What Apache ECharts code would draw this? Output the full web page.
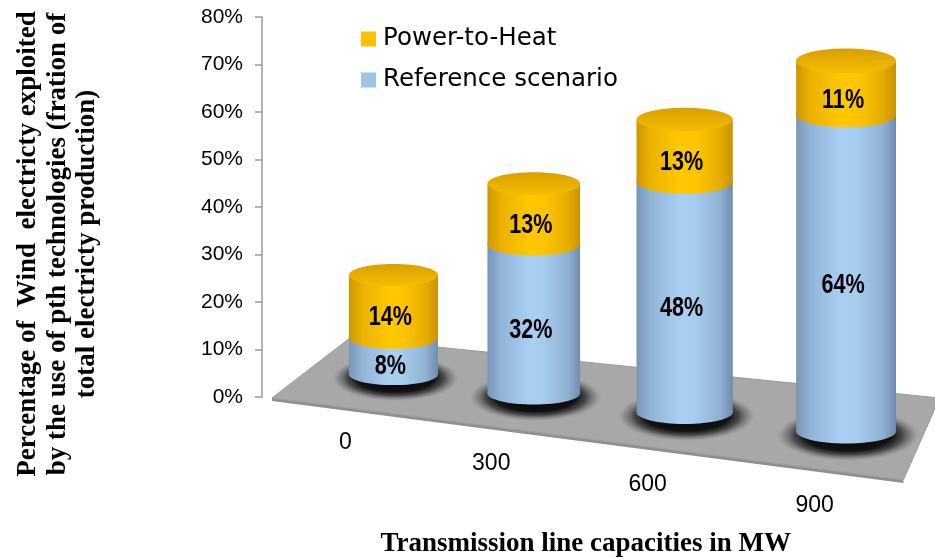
<!DOCTYPE html>
<html>
<head>
<meta charset="utf-8">
<script src="https://cdn.jsdelivr.net/npm/echarts@6/dist/echarts.min.js"></script>
<style>html,body{margin:0;padding:0;background:#fff;}#main{width:935px;height:560px;}</style>
</head>
<body>
<div id="main"></div>
<script>
// ---- data ----
const categories = ['0', '300', '600', '900'];
const referenceScenario = [8, 32, 48, 64];
const powerToHeat = [14, 13, 13, 11];
const seriesNames = ['Power-to-Heat', 'Reference scenario'];
const yTickFormat = '{value}%';

// ---- perspective helpers (layout only) ----
const N = categories.length;
function persp(api, i) {
  const c0 = api.coord([i, 0]);
  const bw = api.size([1, 0])[0];
  return {
    cx: c0[0] - bw * 0.035 * i * (N - 1 - i),
    base: c0[1] + bw * 0.126 * (i - 1.2),
    k: 0.95 + 0.03 * i,
    rx: bw * (0.295 + 0.012 * i),
    y0: c0[1]
  };
}
function yAt(api, p, i, v) {
  return p.base - (p.y0 - api.coord([i, v])[1]) * p.k;
}
const blueGrad = new echarts.graphic.LinearGradient(0, 0, 1, 0, [
  {offset: 0, color: '#7896b8'}, {offset: 0.15, color: '#92b4d8'},
  {offset: 0.45, color: '#a9cff2'}, {offset: 0.6, color: '#a6ccee'},
  {offset: 0.87, color: '#8fb0d3'}, {offset: 1, color: '#6f8cad'}]);
const yellowGrad = new echarts.graphic.LinearGradient(0, 0, 1, 0, [
  {offset: 0, color: '#cf9600'}, {offset: 0.15, color: '#ebb200'},
  {offset: 0.45, color: '#ffc800'}, {offset: 0.62, color: '#fdc500'},
  {offset: 0.87, color: '#e6ac00'}, {offset: 1, color: '#c99100'}]);
const capGrad = new echarts.graphic.LinearGradient(0, 0, 0, 1, [
  {offset: 0, color: '#d9a000'}, {offset: 1, color: '#f5bd00'}]);
const shadowGrad = new echarts.graphic.RadialGradient(0.5, 0.5, 0.5, [
  {offset: 0, color: 'rgba(0,0,0,1)'}, {offset: 0.6, color: 'rgba(10,10,10,0.95)'},
  {offset: 0.75, color: 'rgba(40,40,40,0.75)'}, {offset: 0.9, color: 'rgba(100,100,100,0.35)'},
  {offset: 1, color: 'rgba(168,168,168,0)'}]);
const labelFont = 'bold 27px "Liberation Sans", Arial, sans-serif';

function renderSegment(params, api, isTop) {
  const i = api.value(0);
  const v = api.value(1);
  const b = api.value(2);
  const p = persp(api, i);
  const yBot = yAt(api, p, i, b);
  const yTop = yAt(api, p, i, b + v);
  const ry = p.rx * 0.245;
  const fill = isTop ? yellowGrad : blueGrad;
  const children = [];
  if (!isTop) {
    children.push({type: 'circle', x: p.cx + 2, y: p.base + 4, scaleY: 0.36,
      shape: {cx: 0, cy: 0, r: p.rx * 1.45}, style: {fill: shadowGrad}});
  }
  children.push({type: 'rect', shape: {x: p.cx - p.rx, y: yTop, width: p.rx * 2, height: yBot - yTop}, style: {fill: fill}});
  children.push({type: 'ellipse', shape: {cx: p.cx, cy: yBot, rx: p.rx, ry: ry}, style: {fill: fill}});
  if (isTop) {
    children.push({type: 'ellipse', shape: {cx: p.cx, cy: yTop, rx: p.rx, ry: ry}, style: {fill: capGrad}});
  }
  children.push({type: 'text', x: p.cx - 3, y: (yTop + yBot) / 2 + ry, scaleX: 0.8,
    style: {text: v + '%', x: 0, y: 0, align: 'center', verticalAlign: 'middle', font: labelFont, fill: '#000'}});
  return {type: 'group', children: children};
}

function renderFloor(params, api) {
  const cs = params.coordSys;
  const bw = cs.width / N;
  const gl = cs.x, gr = cs.x + cs.width, y0 = cs.y + cs.height;
  const FL = [gl - bw * 0.305, y0 + 1];
  const BL = [gl + bw * 0.21, y0 - bw * 0.39];
  const BR = [gr + bw * 0.12, y0 + 1];
  const FR = [gr - bw * 0.12, y0 + bw * 0.55];
  return {type: 'group', children: [
    {type: 'polygon', shape: {points: [FL, FR, [FR[0], FR[1] + 3], [FL[0], FL[1] + 3]]}, style: {fill: '#8f8f8f'}},
    {type: 'polygon', shape: {points: [FL, BL, BR, FR]}, style: {fill: '#a8a8a8', stroke: '#9a9a9a', lineWidth: 1}}
  ]};
}

// category label perspective offsets (layout)
const rich = {};
categories.forEach((c, i) => {
  const bw = 150.8;
  const dx = -bw * 0.035 * i * (N - 1 - i) + (-48 + 5.5 * i);
  const dy = 21 * i;
  rich['p' + i] = {
    fontSize: 23, fontFamily: '"Liberation Sans", Arial, sans-serif',
    color: '#000',
    padding: [dy, dx < 0 ? -2 * dx : 0, 0, dx > 0 ? 2 * dx : 0]
  };
});

const chart = echarts.init(document.getElementById('main'), null, {renderer: 'canvas'});
chart.setOption({
  animation: false,
  backgroundColor: '#fff',
  grid: {left: 318, right: 13.5, top: 17, bottom: 163, containLabel: false, outerBoundsMode: 'none'},
  legend: {
    orient: 'vertical', left: 361, top: 26, padding: 0, icon: 'rect', itemWidth: 15, itemHeight: 15, itemGap: 15,
    data: seriesNames,
    textStyle: {fontFamily: '"DejaVu Sans", sans-serif', fontSize: 24.5, color: '#000', lineHeight: 26, padding: [0, 0, 0, 2]}
  },
  xAxis: {
    type: 'category', data: categories,
    axisLine: {show: false}, axisTick: {show: false},
    axisLabel: {margin: 34, formatter: (v, idx) => '{p' + idx + '|' + v + '}', rich: rich},
    name: 'Transmission line capacities in MW', nameLocation: 'middle', nameGap: 134,
    nameTextStyle: {fontFamily: '"Liberation Serif", "Times New Roman", serif', fontWeight: 'bold', fontSize: 27, color: '#000', padding: [0, 68, 0, 0]}
  },
  yAxis: {
    type: 'value', min: 0, max: 80, interval: 10, offset: 56,
    axisLine: {show: true, lineStyle: {color: '#9a9a9a', width: 1.5}},
    axisTick: {show: true, length: 7, lineStyle: {color: '#9a9a9a', width: 1.5}},
    splitLine: {show: false},
    axisLabel: {formatter: yTickFormat, fontSize: 21, color: '#000', fontFamily: '"Liberation Sans", Arial, sans-serif', margin: 19},
    name: 'Percentage of  Wind  electricty exploited\nby the use of pth technologies (fration of\ntotal electricty production)',
    nameLocation: 'middle', nameRotate: 90, nameGap: 160,
    nameTextStyle: {fontFamily: '"Liberation Serif", "Times New Roman", serif', fontWeight: 'bold', fontSize: 27, lineHeight: 29.5, color: '#000', align: 'center', padding: [0, 74, 0, 0]}
  },
  series: [
    {type: 'custom', name: 'floor', silent: true, z: 1, renderItem: renderFloor, data: [[0, 0]], encode: {x: 0, y: 1}},
    {type: 'custom', name: 'Reference scenario', z: 2, itemStyle: {color: '#9dc3e6'},
      renderItem: (p, a) => renderSegment(p, a, false), encode: {x: 0, y: 1},
      data: referenceScenario.map((v, i) => [i, v, 0])},
    {type: 'custom', name: 'Power-to-Heat', z: 3, itemStyle: {color: '#ffc000'},
      renderItem: (p, a) => renderSegment(p, a, true), encode: {x: 0, y: 1},
      data: powerToHeat.map((v, i) => [i, v, referenceScenario[i]])}
  ]
});
</script>
</body>
</html>
